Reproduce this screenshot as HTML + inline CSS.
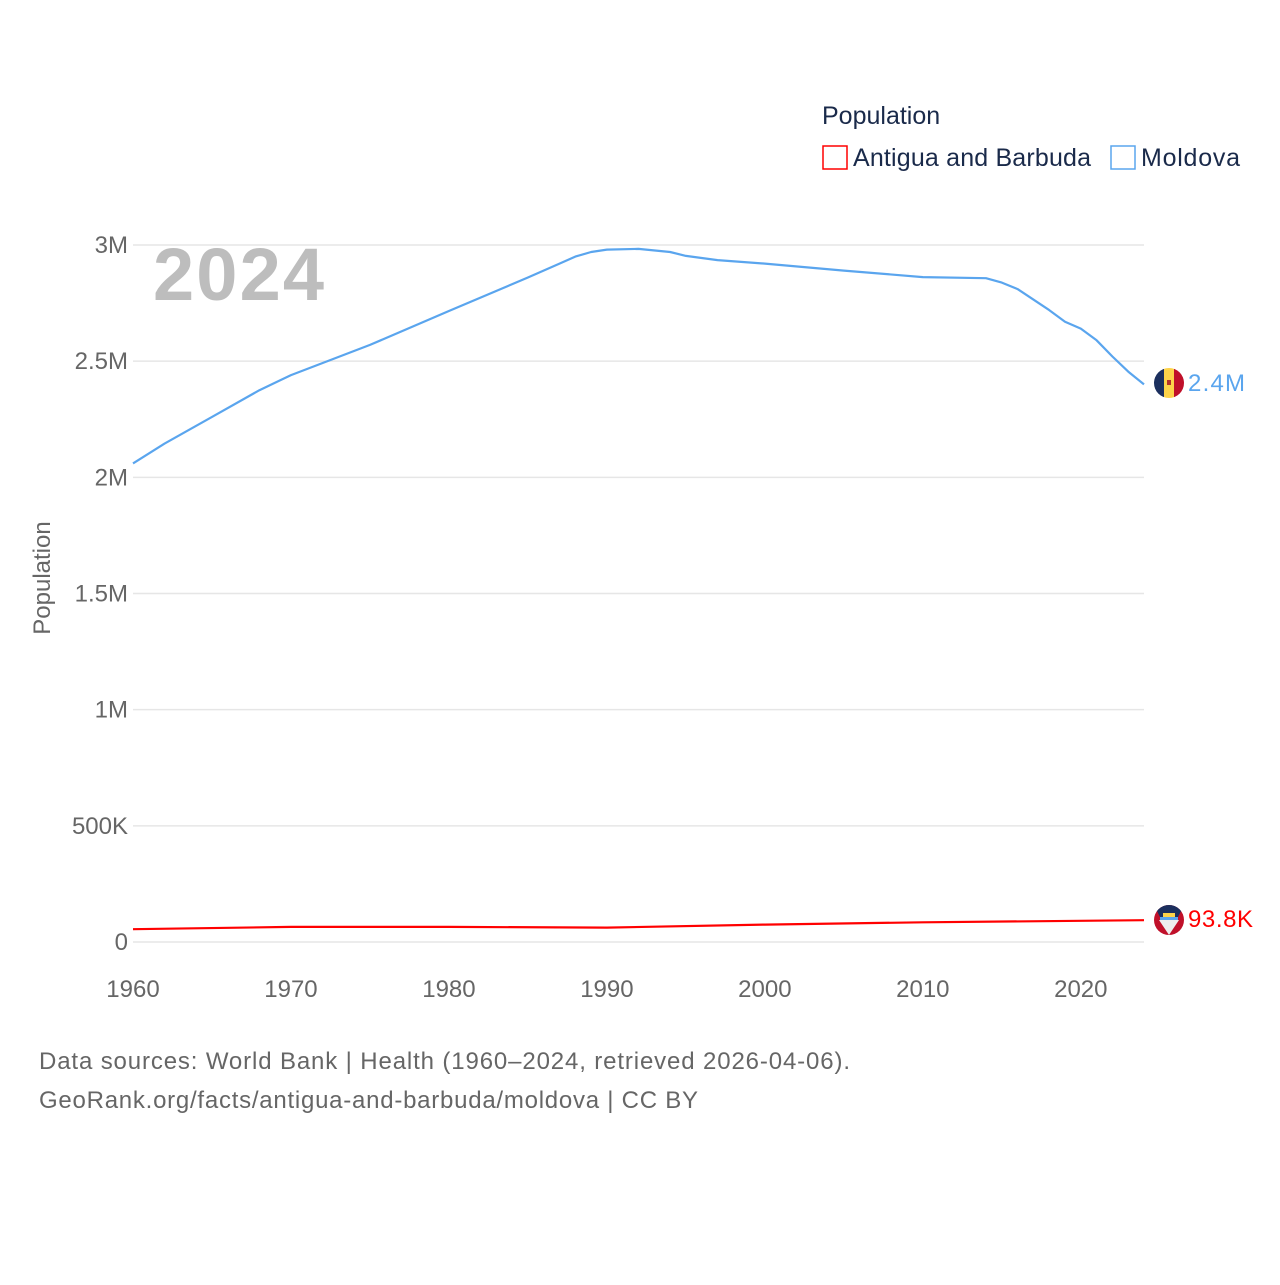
<!DOCTYPE html>
<html><head><meta charset="utf-8"><style>
body{margin:0;background:#fff;width:1280px;height:1280px;overflow:hidden;font-family:"Liberation Sans",sans-serif}
svg text{font-family:"Liberation Sans",sans-serif}
</style></head><body>
<svg id="chart" width="1280" height="1280" viewBox="0 0 1280 1280">
<g id="grid"></g>
<g id="yticks"></g>
<g id="xticks"></g>
<text x="153" y="300" font-size="74" font-weight="bold" fill="#bdbdbd" textLength="171">2024</text>
<text transform="translate(50,578) rotate(-90)" text-anchor="middle" font-size="24" fill="#666">Population</text>
<g id="series"></g>
<g>
<text x="822" y="124" font-size="25" fill="#1a2a4a">Population</text>
<g><rect x="823" y="146" width="24" height="23" fill="none" stroke="#f00" stroke-width="1.5"/><text x="853" y="166" font-size="25" fill="#1a2a4a" textLength="238">Antigua and Barbuda</text></g>
<g><rect x="1111" y="146" width="24" height="23" fill="none" stroke="#5aa5ee" stroke-width="1.5"/><text x="1141" y="166" font-size="25" fill="#1a2a4a" textLength="99">Moldova</text></g>
</g>
<g>
<clipPath id="c1"><circle cx="1169" cy="383" r="15"/></clipPath>
<g clip-path="url(#c1)"><rect x="1154" y="368" width="10" height="30" fill="#1b2f5e"/><rect x="1164" y="368" width="10" height="30" fill="#fdd34a"/><rect x="1174" y="368" width="10" height="30" fill="#c0102a"/><rect x="1167" y="380" width="4" height="5" fill="#b3302a"/></g>
</g>
<text x="1188" y="391" font-size="24" fill="#5aa5ee" textLength="57">2.4M</text>
<g>
<clipPath id="c2"><circle cx="1169" cy="920" r="15"/></clipPath>
<g clip-path="url(#c2)"><rect x="1154" y="905" width="30" height="30" fill="#c0102a"/><polygon points="1154,905 1184,905 1169,935" fill="#1b2f5e"/><polygon points="1159,920 1179,920 1169,935" fill="#eee"/><rect x="1163" y="913" width="12" height="4" fill="#fdd34a"/><rect x="1160" y="917" width="18" height="3" fill="#5aa5ee"/></g>
</g>
<text x="1188" y="927" font-size="24" fill="#f00" textLength="65">93.8K</text>
<text x="39" y="1069" font-size="24" fill="#666" textLength="811">Data sources: World Bank | Health (1960–2024, retrieved 2026-04-06).</text>
<text x="39" y="1108" font-size="24" fill="#666" textLength="659">GeoRank.org/facts/antigua-and-barbuda/moldova | CC BY</text>
</svg>
<script>
const yTickValues=[0,500000,1000000,1500000,2000000,2500000,3000000];
const yTickLabels=["0","500K","1M","1.5M","2M","2.5M","3M"];
const xTickValues=[1960,1970,1980,1990,2000,2010,2020];
const moldovaYears=[1960,1962,1965,1968,1970,1975,1980,1985,1987,1988,1989,1990,1992,1994,1995,1997,2000,2005,2010,2014,2015,2016,2018,2019,2020,2021,2022,2023,2024];
const moldovaValues=[2060000,2145000,2260000,2375000,2440000,2570000,2716000,2860000,2920000,2950000,2970000,2980000,2983000,2970000,2953000,2935000,2920000,2890000,2862000,2857000,2838000,2810000,2720000,2670000,2640000,2590000,2520000,2455000,2400000];
const antiguaYears=[1960,1970,1980,1990,2000,2010,2024];
const antiguaValues=[55000,65000,65000,62000,75000,85000,93800];
const NS="http://www.w3.org/2000/svg";
function xs(v){return 133+(v-1960)*(1144-133)/64;}
function ys(v){return 942-v*(942-245)/3000000;}
function mk(t,a,p){const e=document.createElementNS(NS,t);for(const k in a)e.setAttribute(k,a[k]);p.appendChild(e);return e;}
const grid=document.getElementById('grid'),yt=document.getElementById('yticks'),xt=document.getElementById('xticks'),se=document.getElementById('series');
yTickValues.forEach((v,i)=>{
  const l=mk('line',{x1:133,x2:1144,y1:ys(v),y2:ys(v),stroke:'#e6e6e6','stroke-width':1.5},grid);
  
  
  const t=mk('text',{x:128,y:ys(v)+8,'text-anchor':'end','font-size':24,fill:'#666'},yt);
  t.textContent=yTickLabels[i];
  
  
});
xTickValues.forEach(v=>{
  const t=mk('text',{x:xs(v),y:997,'text-anchor':'middle','font-size':24,fill:'#666'},xt);
  t.textContent=v;
  
  
});
function line(years,vals,color,name){
  const d=years.map((y,i)=>(i?'L':'M')+xs(y).toFixed(1)+','+ys(vals[i]).toFixed(1)).join('');
  const p=mk('path',{d:d,fill:'none',stroke:color,'stroke-width':2.2,'stroke-linejoin':'round'},se);
  
  
}
line(moldovaYears,moldovaValues,'#5aa5ee','moldova-line');
line(antiguaYears,antiguaValues,'#f00','antigua-line');
</script>
</body></html>
